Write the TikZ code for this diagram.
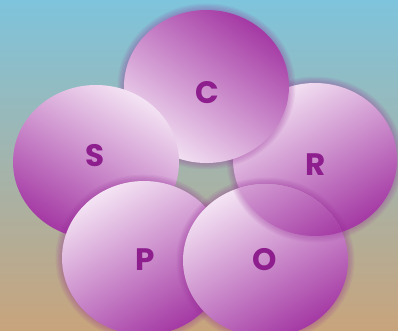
\documentclass[tikz,border=0pt]{standalone}
\usepackage{fontspec}
\setmainfont{Poppins}
\definecolor{bgtop}{RGB}{126,196,220}
\definecolor{bgmid}{RGB}{166,176,164}
\definecolor{bgbot}{RGB}{200,164,124}
\definecolor{pdark}{RGB}{164,56,164}
\definecolor{plight}{RGB}{244,228,244}
\definecolor{glowcol}{RGB}{150,40,150}
\definecolor{lettercol}{RGB}{142,30,142}
\tikzset{
  glowc/.style={fill=glowcol, fill opacity=0.07},
  lettr/.style={font=\fontsize{31}{31}\selectfont\bfseries, text=lettercol, inner sep=0pt},
  darktop/.style={top color=pdark, bottom color=plight, shading angle=-35},
  lighttopl/.style={top color=plight, bottom color=pdark, shading angle=30},
  lighttopr/.style={top color=plight, bottom color=pdark, shading angle=-30},
}
\begin{document}
\begin{tikzpicture}[x=1pt,y=-1pt]
\useasboundingbox (0,0) rectangle (398,330);
\shade[top color=bgtop, middle color=bgmid, bottom color=bgbot] (0,0) rectangle (398,330);
% R
\foreach \k in {1,...,5} \fill[glowc] (315,159.5) ellipse [x radius={(82+\k*1.3)*1pt}, y radius={(76.5+\k*1.3)*1pt}];
\shade[lighttopl] (315,159.5) ellipse [x radius=82pt, y radius=76.5pt];
% C
\foreach \k in {1,...,5} \fill[glowc] (206.5,86.5) ellipse [x radius={(82.5+\k*1.3)*1pt}, y radius={(76.5+\k*1.3)*1pt}];
\shade[darktop] (206.5,86.5) ellipse [x radius=82.5pt, y radius=76.5pt];
% S
\shade[lighttopr] (96,162) ellipse [x radius=83pt, y radius=77pt];
% P
\foreach \k in {1,...,5} \fill[glowc] (144,258) ellipse [x radius={(82+\k*1.3)*1pt}, y radius={(77+\k*1.3)*1pt}];
\shade[lighttopl] (144,258) ellipse [x radius=82pt, y radius=77pt];
% O
\foreach \k in {1,...,5} \fill[glowc] (265.5,260.5) ellipse [x radius={(82.5+\k*1.3)*1pt}, y radius={(76.5+\k*1.3)*1pt}];
\shade[lighttopl] (265.5,260.5) ellipse [x radius=82.5pt, y radius=76.5pt];
% R again over O
\begin{scope}
\clip (265.5,260.5) ellipse [x radius=82.5pt, y radius=76.5pt];
\foreach \k in {1,...,5} \fill[glowc] (315,159.5) ellipse [x radius={(82+\k*1.3)*1pt}, y radius={(76.5+\k*1.3)*1pt}];
\shade[lighttopl] (315,159.5) ellipse [x radius=82pt, y radius=76.5pt];
\end{scope}
% letters
\node[lettr] (c) at (207,93) {C};
\node[lettr] (s) at (95,156) {S};
\node[lettr] (r) at (316,165) {R};
\node[lettr] (p) at (145,260) {P};
\node[lettr] (o) at (265,260) {O};
\end{tikzpicture}
\end{document}
